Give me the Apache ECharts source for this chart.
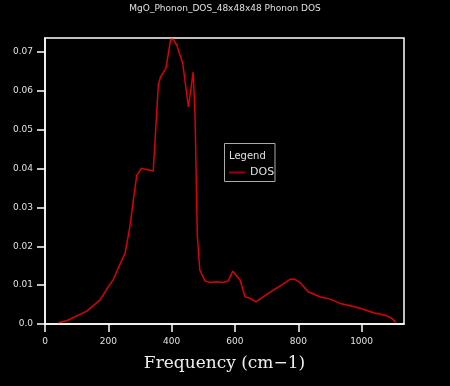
<!DOCTYPE html>
<html>
<head>
<meta charset="utf-8">
<script src="https://cdn.jsdelivr.net/npm/echarts@6/dist/echarts.min.js"></script>
<style>html,body{margin:0;padding:0;background:#000;}#c{width:450px;height:386px;}</style>
</head>
<body>
<div id="c"></div>
<script>
const titleText = 'MgO_Phonon_DOS_48x48x48 Phonon DOS';
const seriesName = 'DOS';
const freq = [42, 70, 132, 174, 200, 216, 231, 253, 268, 279, 290, 305, 316, 342, 358, 365, 382, 397, 405, 416, 435, 453, 468, 474, 481, 489, 505, 521, 542, 563, 579, 593, 616, 632, 647, 666, 689, 721, 747, 774, 789, 805, 831, 868, 900, 932, 974, 1005, 1037, 1079, 1095, 1108];
const dos = [0.0003, 0.0009, 0.0033, 0.0062, 0.0096, 0.0115, 0.0143, 0.0182, 0.0250, 0.0319, 0.0383, 0.0401, 0.0398, 0.0394, 0.0615, 0.0636, 0.0658, 0.0733, 0.0732, 0.0718, 0.0671, 0.0559, 0.0648, 0.0538, 0.0229, 0.0139, 0.0111, 0.0107, 0.0109, 0.0107, 0.0111, 0.0136, 0.0113, 0.0070, 0.0066, 0.0057, 0.0070, 0.0087, 0.0100, 0.0115, 0.0115, 0.0107, 0.0083, 0.0070, 0.0064, 0.0053, 0.0045, 0.0038, 0.0029, 0.0021, 0.0015, 0.0004];
const xTicks = [0, 200, 400, 600, 800, 1000];
const yTicks = [0, 0.01, 0.02, 0.03, 0.04, 0.05, 0.06, 0.07];
const xName = 'Frequency (cm\u22121)';

const chart = echarts.init(document.getElementById('c'), null, {renderer: 'canvas'});
const fg = '#e0e0e0';
chart.setOption({
  backgroundColor: '#000',
  animation: false,
  title: {
    text: titleText, left: 'center', top: 4, padding: 0,
    textStyle: {color: fg, fontSize: 9, fontWeight: 'normal', fontFamily: 'DejaVu Sans'}
  },
  grid: {left: 45, right: 46, top: 38, bottom: 62, show: true, borderColor: '#fff', borderWidth: 1.5, backgroundColor: 'transparent'},
  xAxis: {
    type: 'value', min: 0, max: 1134,
    name: xName, nameLocation: 'middle', nameGap: 31,
    nameTextStyle: {color: '#f0f0f0', fontSize: 17, fontFamily: 'DejaVu Serif'},
    axisLine: {show: true, lineStyle: {color: '#fff', width: 1.5}},
    axisTick: {show: true, length: 8, lineStyle: {color: '#fff', width: 1.5}, customValues: xTicks},
    axisLabel: {color: fg, fontSize: 9, fontFamily: 'DejaVu Sans', margin: 13, customValues: xTicks, formatter: v => String(v)},
    splitLine: {show: false}
  },
  yAxis: {
    type: 'value', min: 0, max: 0.0736,
    axisLine: {show: true, lineStyle: {color: '#fff', width: 1.5}},
    axisTick: {show: true, length: 8, lineStyle: {color: '#fff', width: 1.5}, customValues: yTicks},
    axisLabel: {color: fg, fontSize: 9, fontFamily: 'DejaVu Sans', margin: 12, customValues: yTicks,
      formatter: v => v === 0 ? '0.0' : v.toFixed(2)},
    splitLine: {show: false}
  },
  legend: {
    data: [seriesName], left: 229, top: 167, padding: 0, itemGap: 0,
    icon: 'rect', itemWidth: 16, itemHeight: 2,
    textStyle: {color: fg, fontSize: 11, fontFamily: 'DejaVu Sans'}
  },
  graphic: [
    {type: 'rect', shape: {x: 224.5, y: 143.5, width: 50.5, height: 38}, style: {fill: 'none', stroke: '#aaa', lineWidth: 1}, z: 10},
    {type: 'text', left: 229, top: 151, style: {text: 'Legend', fill: fg, fontSize: 10, fontFamily: 'DejaVu Sans'}, z: 10}
  ],
  series: [{
    name: seriesName, type: 'line', showSymbol: false, symbol: 'none',
    data: freq.map((f, i) => [f, dos[i]]),
    lineStyle: {color: '#dd0000', width: 1.5},
    itemStyle: {color: '#a00000'}
  }]
});
</script>
</body>
</html>
